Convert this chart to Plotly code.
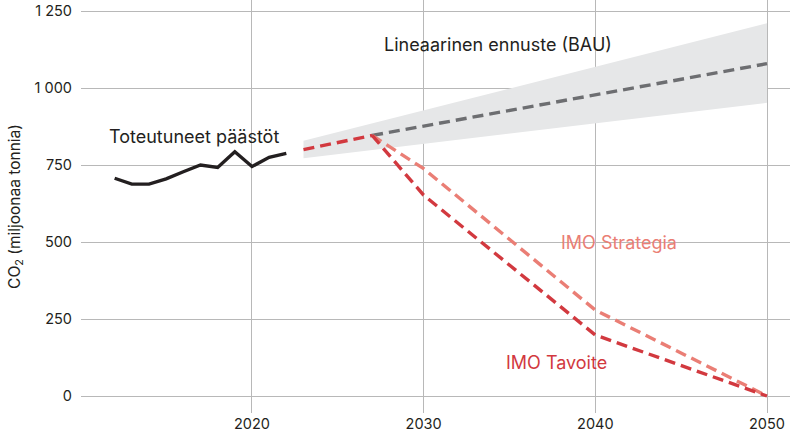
import plotly.graph_objects as go

# Data
hist_years = [2012, 2013, 2014, 2015, 2016, 2017, 2018, 2019, 2020, 2021, 2022]
hist_co2 = [707, 688, 688, 705, 728, 750, 742, 793, 745, 775, 788]

pre_years = [2023, 2027]
pre_co2 = [800, 846]

bau_years = [2027, 2050]
bau_co2 = [846, 1079]

band_years = [2023, 2050]
band_low = [772, 952]
band_high = [829, 1210]

tavoite_years = [2027, 2030, 2040, 2050]
tavoite_co2 = [846, 652, 198, 0]

strategia_years = [2027, 2030, 2040, 2050]
strategia_co2 = [846, 738, 279, 0]

y_ticks = [0, 250, 500, 750, 1000, 1250]
y_ticktext = ["0", "250", "500", "750", "1 000", "1 250"]
x_ticks = [2020, 2030, 2040, 2050]

FONT = "Inter"
BLACK = "#231f20"
GRAY = "#6d6e71"
RED = "#d2393f"
LIGHTRED = "#ea7e75"
BAND = "#e6e7e8"
GRID = "#b8b8b8"

fig = go.Figure()
fig.add_trace(go.Scatter(x=band_years, y=band_low, mode="lines", line=dict(width=0),
                         hoverinfo="skip", showlegend=False))
fig.add_trace(go.Scatter(x=band_years, y=band_high, mode="lines", line=dict(width=0),
                         fill="tonexty", fillcolor=BAND, hoverinfo="skip", showlegend=False))
fig.add_trace(go.Scatter(x=bau_years, y=bau_co2, mode="lines",
                         line=dict(color=GRAY, width=3.4, dash="11px,6px"), showlegend=False))
fig.add_trace(go.Scatter(x=strategia_years, y=strategia_co2, mode="lines",
                         line=dict(color=LIGHTRED, width=3.4, dash="11px,6px"), showlegend=False))
fig.add_trace(go.Scatter(x=tavoite_years, y=tavoite_co2, mode="lines",
                         line=dict(color=RED, width=3.4, dash="11px,6px"), showlegend=False))
fig.add_trace(go.Scatter(x=pre_years, y=pre_co2, mode="lines",
                         line=dict(color=RED, width=3.4, dash="11px,6px"), showlegend=False))
fig.add_trace(go.Scatter(x=hist_years, y=hist_co2, mode="lines",
                         line=dict(color=BLACK, width=3.4), showlegend=False))

ann_font = dict(family=FONT, size=18)
fig.add_annotation(x=2016.62, y=844, text="Toteutuneet päästöt", showarrow=False,
                   font=dict(ann_font, color=BLACK), xanchor="center", yanchor="middle")
fig.add_annotation(x=2034.33, y=1140, text="Lineaarinen ennuste (BAU)", showarrow=False,
                   font=dict(ann_font, color=BLACK), xanchor="center", yanchor="middle")
fig.add_annotation(x=2041.37, y=500, text="IMO Strategia", showarrow=False,
                   font=dict(ann_font, color=LIGHTRED), xanchor="center", yanchor="middle")
fig.add_annotation(x=2037.75, y=110, text="IMO Tavoite", showarrow=False,
                   font=dict(ann_font, color=RED), xanchor="center", yanchor="middle")

fig.update_layout(
    width=792, height=446,
    margin=dict(l=81, r=2, t=0, b=33, autoexpand=False),
    paper_bgcolor="white", plot_bgcolor="white",
    font=dict(family=FONT, size=14, color="#231f20"),
    xaxis=dict(range=[2010.04, 2051.34], tickvals=x_ticks, showgrid=True, gridcolor=GRID,
               gridwidth=1, zeroline=False, showline=False, ticks="", tickfont=dict(size=14.5)),
    yaxis=dict(range=[-55.2, 1285.7], tickvals=y_ticks, ticktext=y_ticktext, showgrid=True,
               gridcolor=GRID, gridwidth=1, zeroline=False, showline=False, ticks="",
               tickfont=dict(size=14.5), ticklabelstandoff=8, ticklabeloverflow="allow",
               title=dict(text="CO<sub>2</sub> (miljoonaa tonnia)", font=dict(size=15.5), standoff=10)),
    hovermode=False,
)

# remove the default page margin so the figure sits at the window's top-left corner
fig.write_html("out.html", config={"displayModeBar": False},
               post_script="document.body.style.margin='0';")
